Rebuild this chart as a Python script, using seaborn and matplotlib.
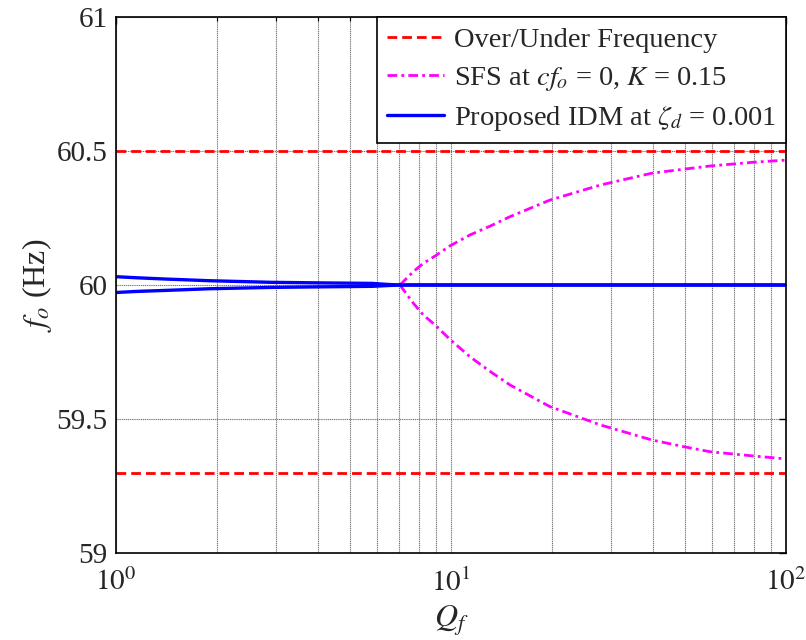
import numpy as np
import pandas as pd
import matplotlib
matplotlib.use("Agg")
import matplotlib.pyplot as plt
import seaborn as sns
from matplotlib.ticker import LogLocator, FixedLocator, NullFormatter

# ---- data ----
limit_freqs = [60.5, 59.3]
limit_q = [1, 100]

q_sfs = [7.04, 7.72, 8.27, 8.96, 9.93, 11.4, 13.1, 15.0, 19.75, 27.9, 39.7, 49.4, 59.3, 79.9, 100]
sfs_upper = [60.0, 60.050, 60.081, 60.108, 60.146, 60.187, 60.220, 60.255, 60.317, 60.373,
             60.417, 60.432, 60.444, 60.458, 60.466]
sfs_lower = [60.0, 59.932, 59.888, 59.851, 59.797, 59.732, 59.677, 59.627, 59.546, 59.478,
             59.422, 59.397, 59.378, 59.362, 59.351]

q_idm = [1.0, 1.15, 1.42, 1.9, 2.9, 4.0, 5.8, 6.5, 7.0, 100]
idm_upper = [60.031, 60.027, 60.022, 60.016, 60.010, 60.008, 60.006, 60.002, 60.0, 60.0]
idm_lower = [59.972, 59.976, 59.980, 59.986, 59.991, 59.993, 59.995, 59.998, 60.0, 60.0]

y_ticks = [59, 59.5, 60, 60.5, 61]
y_ticklabels = ["59", "59.5", "60", "60.5", "61"]
x_ticks = [1, 10, 100]
x_ticklabels = [r"$10^0$", r"$10^1$", r"$10^2$"]
labels = ["Over/Under Frequency", r"SFS at $cf_o$ = 0, $K$ = 0.15",
          r"Proposed IDM at $\zeta_d$ = 0.001"]

# ---- style ----
sns.set_theme(style="white")
plt.rcParams["font.family"] = ["Liberation Serif", "DejaVu Serif"]
plt.rcParams["mathtext.fontset"] = "stix"
plt.rcParams["xtick.direction"] = "in"
plt.rcParams["ytick.direction"] = "in"

fig = plt.figure(figsize=(8.06, 6.4), dpi=100)
ax = fig.add_axes([116/806, 1-553/640, (786-116)/806, (553-17)/640])

red, mag, blue = "#ff0000", "#ff00ff", "#0000ff"

handles = []
for i, f in enumerate(limit_freqs):
    df = pd.DataFrame({"Q": limit_q, "f": [f, f]})
    sns.lineplot(data=df, x="Q", y="f", ax=ax, color=red, lw=2.0,
                 estimator=None, sort=False)
    ax.lines[-1].set_dashes((3.5, 1.8))
    if i == 0:
        handles.append(ax.lines[-1])

for i, ys in enumerate([sfs_upper, sfs_lower]):
    df = pd.DataFrame({"Q": q_sfs, "f": ys})
    sns.lineplot(data=df, x="Q", y="f", ax=ax, color=mag, lw=2.0,
                 estimator=None, sort=False)
    ax.lines[-1].set_dashes((3.5, 1.5, 1.0, 1.5))
    if i == 0:
        handles.append(ax.lines[-1])

for i, ys in enumerate([idm_upper, idm_lower]):
    df = pd.DataFrame({"Q": q_idm, "f": ys})
    sns.lineplot(data=df, x="Q", y="f", ax=ax, color=blue, lw=2.4,
                 estimator=None, sort=False)
    if i == 0:
        handles.append(ax.lines[-1])

ax.set_xscale("log")
ax.set_xlim(1, 100)
ax.set_ylim(59, 61)
ax.set_yticks(y_ticks)
ax.set_yticklabels(y_ticklabels)
ax.xaxis.set_major_locator(FixedLocator(x_ticks))
ax.set_xticklabels(x_ticklabels)
ax.xaxis.set_minor_locator(LogLocator(base=10, subs=np.arange(2, 10), numticks=20))
ax.xaxis.set_minor_formatter(NullFormatter())

ax.tick_params(axis="both", which="both", direction="in", top=True, right=True,
               labelsize=21, color="black")
ax.tick_params(axis="both", which="major", length=5, width=1)
ax.tick_params(axis="x", which="minor", length=3, width=0.8)
ax.tick_params(axis="x", which="major", pad=11)
ax.tick_params(axis="y", which="major", pad=6)

ax.grid(True, which="major", axis="y", color="#707070", lw=0.8, ls=(0, (1, 0.7)))
ax.grid(True, which="both", axis="x", color="#707070", lw=0.8, ls=(0, (1, 0.7)))
ax.set_axisbelow(True)

for s in ax.spines.values():
    s.set_color("black")
    s.set_linewidth(1.2)

ax.set_xlabel(r"$Q_f$", fontsize=23, labelpad=5)
ax.set_ylabel(r"$f_o$ (Hz)", fontsize=23, labelpad=2)

leg = ax.legend(handles, labels, loc="upper right", borderaxespad=0,
                fontsize=20.5, frameon=True, fancybox=False, framealpha=1,
                edgecolor="black", handlelength=2.0, handletextpad=0.33,
                labelspacing=0.40, borderpad=0.36)
leg.get_frame().set_linewidth(1.2)

fig.savefig("out.png", dpi=100, facecolor="white")
